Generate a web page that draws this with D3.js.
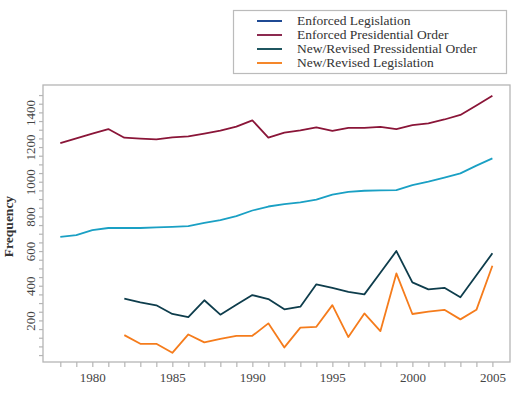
<!DOCTYPE html>
<html>
<head>
<meta charset="utf-8">
<script src="https://cdn.jsdelivr.net/npm/d3@7"></script>
<style>
  body { margin: 0; background: #fff; }
  text { font-family: "Liberation Serif", "DejaVu Serif", serif; }
</style>
</head>
<body>
<svg id="chart" width="529" height="395"></svg>
<script>
// ********************** DATA **********************
let years = d3.range(1978, 2006)
let lateYears = d3.range(1982, 2006)

let enforcedOrder = [1223, 1250, 1277, 1304, 1254, 1249, 1244, 1256, 1262, 1278, 1295, 1318, 1354, 1255,
  1283, 1296, 1314, 1294, 1311, 1311, 1317, 1304, 1327, 1337, 1359, 1385, 1440, 1496]

let newOrder = [682, 692, 721, 733, 733, 733, 737, 740, 744, 762, 779, 802, 834, 857,
  871, 881, 897, 926, 942, 948, 950, 952, 981, 1001, 1024, 1048, 1093, 1135]

let enforcedLeg = [325, 304, 287, 237, 219, 316, 233, 290, 346, 323, 264, 279,
  408, 387, 365, 350, 475, 600, 419, 379, 388, 333, 460, 587]

let newLeg = [115, 65, 65, 13, 119, 73, 94, 111, 111, 183, 44, 158,
  163, 288, 104, 240, 138, 471, 237, 250, 261, 206, 261, 515]

let yTickLabels = [200, 400, 600, 800, 1000, 1200, 1400]

let legendNames = ["Enforced Legislation", "Enforced Presidential Order",
  "New/Revised Pressidential Order", "New/Revised Legislation"]
let legendColors = ["#1f4a94", "#8c2a50", "#1f5660", "#f5872a"]

let series = [
  { x: years, v: enforcedOrder, color: "#8a1538" },
  { x: years, v: newOrder, color: "#1aa0c4" },
  { x: lateYears, v: enforcedLeg, color: "#0e3d4c" },
  { x: lateYears, v: newLeg, color: "#f57c1c" }
]

// ********************** SCALES **********************
let plot = { left: 43, right: 510, top: 85, bottom: 362 }

let x = d3.scaleLinear()
  .domain([1977, 2006.1])
  .range([44.3, 510])

let y = d3.scaleLinear()
  .domain([-40, 1558])
  .range([362, 85])

let chart = d3.select("#chart")

// frame
chart.append("rect")
  .attr("x", plot.left)
  .attr("y", plot.top)
  .attr("width", plot.right - plot.left)
  .attr("height", plot.bottom - plot.top)
  .attr("fill", "none")
  .attr("stroke", "#b5b5b5")
  .attr("stroke-width", 1.3)

// x axis
let xAxis = d3.axisBottom(x)
  .tickValues(years)
  .tickSize(5)
  .tickFormat(function(d) { return d % 5 === 0 ? d : "" })

let gx = chart.append("g")
  .attr("id", "x-axis")
  .attr("transform", "translate(0," + plot.bottom + ")")
  .call(xAxis)
gx.attr("font-family", null)
gx.select(".domain").remove()
gx.selectAll("line").attr("stroke", "#b5b5b5").attr("stroke-width", 1.2)
gx.selectAll("text")
  .attr("fill", "#444")
  .attr("font-size", "13px")
  .attr("dy", "0.95em")

// y axis
let yAxis = d3.axisLeft(y)
  .tickValues(d3.range(0, 1501, 50))
  .tickSize(4)
  .tickFormat(function(d) { return yTickLabels.indexOf(d) >= 0 ? d : "" })

let gy = chart.append("g")
  .attr("id", "y-axis")
  .attr("transform", "translate(" + plot.left + ",0)")
  .call(yAxis)
gy.attr("font-family", null)
gy.select(".domain").remove()
gy.selectAll("line").attr("stroke", "#b5b5b5").attr("stroke-width", 1.2)
gy.selectAll("text")
  .attr("fill", "#444")
  .attr("font-size", "13px")
  .attr("x", null)
  .attr("dy", null)
  .attr("text-anchor", "middle")
  .attr("transform", "translate(-8,0) rotate(-90)")

chart.append("text")
  .attr("transform", "translate(13," + ((plot.top + plot.bottom) / 2 + 3) + ") rotate(-90)")
  .attr("text-anchor", "middle")
  .attr("font-size", "13.5px")
  .attr("font-weight", "bold")
  .attr("fill", "#333")
  .text("Frequency")

// lines
let line = d3.line()
  .x(function(d) { return x(d[0]) })
  .y(function(d) { return y(d[1]) })

series.forEach(function(s) {
  chart.append("path")
    .datum(d3.zip(s.x, s.v))
    .attr("fill", "none")
    .attr("stroke", s.color)
    .attr("stroke-width", 1.8)
    .attr("stroke-linejoin", "round")
    .attr("d", line)
})

// legend
let legend = chart.append("g")

legend.append("rect")
  .attr("x", 233.5)
  .attr("y", 10.5)
  .attr("width", 273)
  .attr("height", 63)
  .attr("fill", "#fff")
  .attr("stroke", "#bbb")
  .attr("stroke-width", 1.2)

let item = legend.selectAll(".item")
  .data(legendNames)
  .enter()
  .append("g")
  .attr("transform", function(d, i) {
    return "translate(0," + (21 + i * 14) + ")"
  })

item.append("line")
  .attr("x1", 257)
  .attr("x2", 282)
  .attr("stroke", function(d, i) { return legendColors[i] })
  .attr("stroke-width", 2)

item.append("text")
  .attr("x", 297)
  .attr("dy", "0.33em")
  .attr("font-size", "13.5px")
  .attr("fill", "#333")
  .text(function(d) { return d })
</script>
</body>
</html>
